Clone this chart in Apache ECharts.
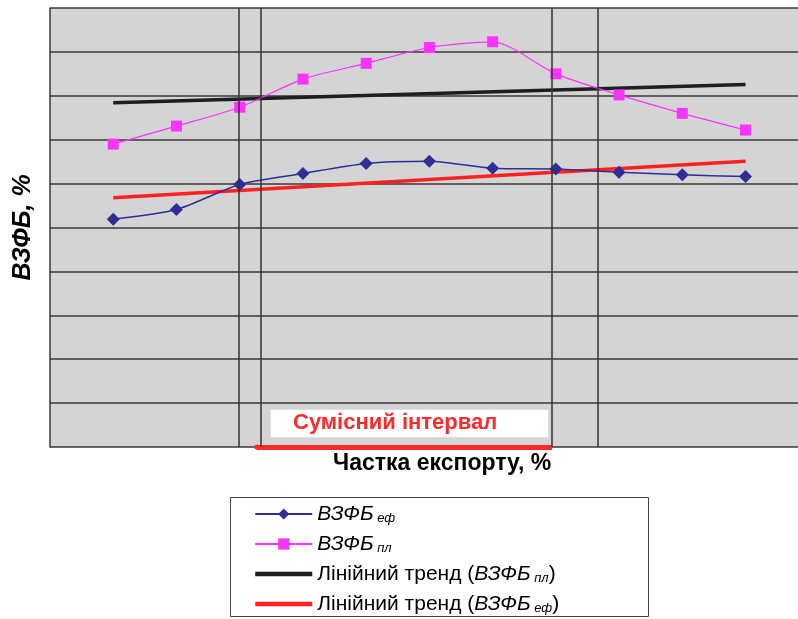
<!DOCTYPE html>
<html>
<head>
<meta charset="utf-8">
<script src="https://cdn.jsdelivr.net/npm/echarts@6/dist/echarts.min.js"></script>
<style>html,body{margin:0;padding:0;background:#fff;}#c{width:798px;height:619px;}</style>
</head>
<body>
<div id="c"></div>
<script>
// ---- data ----
const xPositions = [1, 2, 3, 4, 5, 6, 7, 8, 9, 10, 11];
const vzfbEf = [5.19, 5.41, 5.98, 6.23, 6.46, 6.51, 6.35, 6.33, 6.26, 6.20, 6.16];
const vzfbPl = [6.90, 7.31, 7.74, 8.38, 8.74, 9.10, 9.23, 8.50, 8.02, 7.60, 7.22];
const trendX = [1, 11];
const trendPl = [7.84, 8.26];
const trendEf = [5.68, 6.51];
const boundaryLines = [2.98, 3.33, 7.94, 8.67];
const jointInterval = [3.27, 7.94];
const yTicks = [0, 1, 2, 3, 4, 5, 6, 7, 8, 9, 10];
const xRange = [0, 11.83];

const FONT = 'Liberation Sans, Arial, sans-serif';
const pair = (xs, ys) => xs.map((x, i) => [x, ys[i]]);

const chart = echarts.init(document.getElementById('c'), null, {renderer: 'canvas'});

const rich = {
  n: {fontSize: 21, fontFamily: FONT, color: '#000', lineHeight: 22},
  i: {fontSize: 21, fontFamily: FONT, fontStyle: 'italic', color: '#000', lineHeight: 22},
  s: {fontSize: 13, fontFamily: FONT, fontStyle: 'italic', color: '#000', lineHeight: 13, verticalAlign: 'bottom'}
};
const legendLabels = {
  'ef': '{i|ВЗФБ}{s| еф}',
  'pl': '{i|ВЗФБ}{s| пл}',
  'tpl': '{n|Лінійний тренд (}{i|ВЗФБ}{s| пл}{n|)}',
  'tef': '{n|Лінійний тренд (}{i|ВЗФБ}{s| еф}{n|)}'
};
const hiddenSymbol = {color: 'rgba(0,0,0,0)', borderWidth: 0, opacity: 0};

const option = {
  animation: false,
  grid: {
    left: 50, top: 8, width: 748, height: 439,
    outerBoundsMode: 'none', containLabel: false,
    show: true, backgroundColor: '#d4d4d4', borderWidth: 0
  },
  xAxis: {
    type: 'value', min: xRange[0], max: xRange[1],
    axisLine: {show: false}, axisTick: {show: false}, axisLabel: {show: false},
    splitLine: {show: false}
  },
  yAxis: {
    type: 'value', min: yTicks[0], max: yTicks[yTicks.length - 1], interval: 1,
    name: 'ВЗФБ, %', nameLocation: 'middle', nameGap: 14, nameRotate: 90,
    nameTextStyle: {fontFamily: FONT, fontSize: 25, fontWeight: 'bold', fontStyle: 'italic', color: '#000'},
    axisLine: {show: true, lineStyle: {color: '#3a3a3a', width: 1.5}},
    axisTick: {show: false}, axisLabel: {show: false},
    splitLine: {show: true, lineStyle: {color: '#3a3a3a', width: 1.5}}
  },
  legend: {
    orient: 'vertical', left: 253, top: 503, padding: 0,
    height: 114,
    itemWidth: 57, itemHeight: 14, itemGap: 8,
    data: [
      {name: 'ef'},
      {name: 'pl'},
      {name: 'tpl', itemStyle: hiddenSymbol, lineStyle: {width: 4.5}},
      {name: 'tef', itemStyle: hiddenSymbol, lineStyle: {width: 4.5}}
    ],
    formatter: name => legendLabels[name],
    textStyle: {rich: rich, fontFamily: FONT, fontSize: 21, lineHeight: 22}
  },
  graphic: [
    {type: 'rect', left: 230, top: 497, z: -1,
     shape: {width: 418, height: 119},
     style: {fill: '#fff', stroke: '#444', lineWidth: 1}},
    {type: 'text', left: 333, top: 452, z: 10,
     style: {text: 'Частка експорту, %', fontFamily: FONT, fontSize: 23, fontWeight: 'bold', fill: '#000'}},
    {type: 'rect', left: 270, top: 409, z: 10,
     shape: {width: 278, height: 28},
     style: {fill: '#fff', stroke: '#e0e0e0', lineWidth: 1}},
    {type: 'text', left: 293, top: 412, z: 11,
     style: {text: 'Сумісний інтервал', fontFamily: FONT, fontSize: 22, fontWeight: 'bold', fill: '#ff2a2a'}}
  ],
  series: [
    {
      name: 'tpl', type: 'line', data: pair(trendX, trendPl), symbol: 'none', z: 2,
      lineStyle: {color: '#1e1e1e', width: 3.5}, itemStyle: {color: '#000'}
    },
    {
      name: 'tef', type: 'line', data: pair(trendX, trendEf), symbol: 'none', z: 2,
      lineStyle: {color: '#ff2020', width: 3.5}, itemStyle: {color: '#ff0000'},
      markLine: {
        silent: true, symbol: ['circle', 'none'], symbolSize: 5, label: {show: false},
        lineStyle: {color: '#ff2a2a', width: 5, type: 'solid'},
        data: [[{coord: [jointInterval[0], 0]}, {coord: [jointInterval[1], 0]}]]
      }
    },
    {
      name: 'ef', type: 'line', data: pair(xPositions, vzfbEf), smooth: 0.25, z: 4,
      symbol: 'diamond', symbolSize: 13,
      lineStyle: {color: '#2e2e96', width: 1.5}, itemStyle: {color: '#2e2e96'},
      markLine: {
        silent: true, symbol: 'none', label: {show: false},
        lineStyle: {color: '#333', width: 1.5, type: 'solid'},
        data: boundaryLines.map(v => ({xAxis: v}))
      }
    },
    {
      name: 'pl', type: 'line', data: pair(xPositions, vzfbPl), smooth: 0.25, z: 4,
      symbol: 'rect', symbolSize: 11,
      lineStyle: {color: '#ff33ff', width: 1.2}, itemStyle: {color: '#ff33ff'}
    }
  ]
};
chart.setOption(option);
</script>
</body>
</html>
